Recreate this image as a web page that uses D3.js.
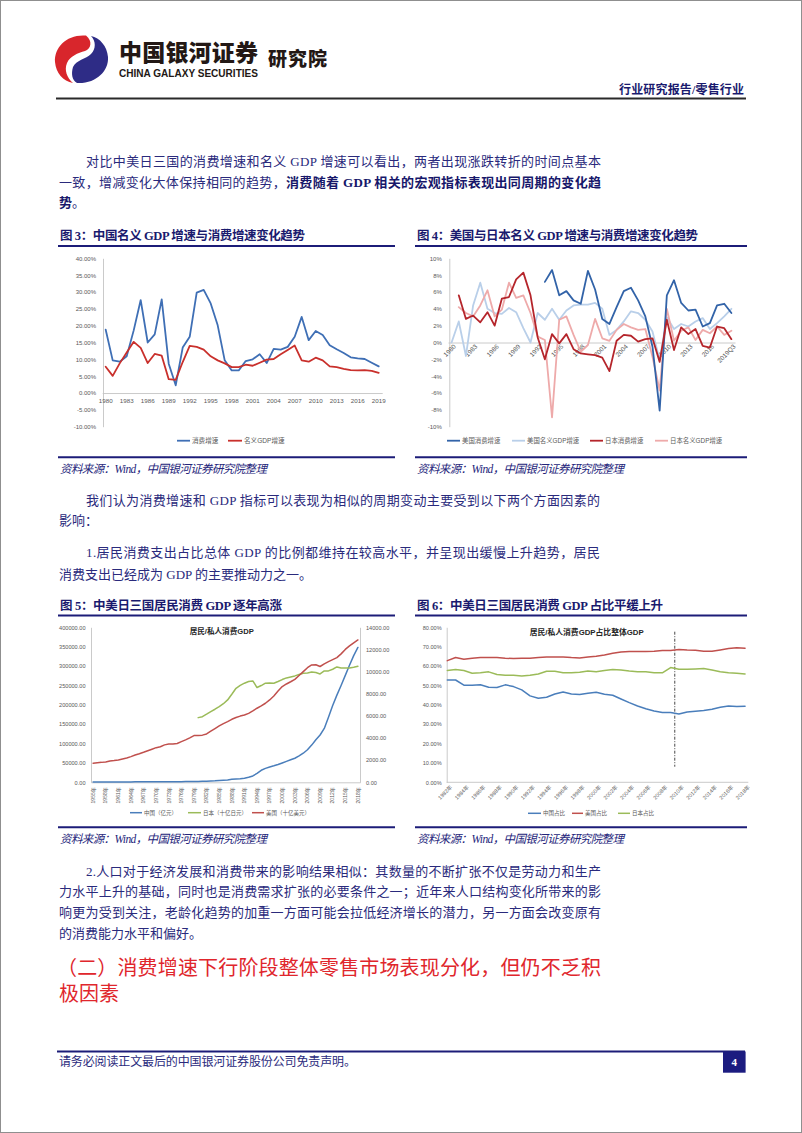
<!DOCTYPE html>
<html><head><meta charset="utf-8">
<script src="https://cdn.jsdelivr.net/npm/d3@7/dist/d3.min.js"></script>
<style>
html,body{margin:0;padding:0;background:#fff;}
svg{display:block;}
</style></head>
<body>
<svg id="page" width="802" height="1133"></svg>
<script>
// ---------------- DATA ----------------
const fig3Years = [1980,1981,1982,1983,1984,1985,1986,1987,1988,1989,1990,1991,1992,1993,1994,1995,1996,1997,1998,1999,2000,2001,2002,2003,2004,2005,2006,2007,2008,2009,2010,2011,2012,2013,2014,2015,2016,2017,2018,2019];
const fig3Consumption = [18.8,9.7,9.3,10.9,18.6,27.6,15.0,17.4,27.8,8.7, 2.3,13.5,16.7,29.8,30.6,26.6,20.1,9.7,6.7,6.7, 9.5,10.0,11.5,8.9,13.1,12.9,13.7,16.7,22.6,15.7, 18.4,17.2,14.2,13.0,11.9,10.6,10.3,10.1,9.0,7.9];
const fig3NominalGdp = [7.8,5.1,8.8,12.0,15.2,13.4,8.9,11.6,11.1,4.1, 3.9,9.2,14.0,13.7,12.9,10.9,9.7,8.8,7.7,7.7, 8.4,8.1,9.0,9.9,10.1,11.5,12.8,14.1,9.7,9.3, 10.5,9.7,7.9,7.7,7.2,6.8,6.7,6.8,6.6,6.0];
const fig3YTicks = [-10,-5,0,5,10,15,20,25,30,35,40];
const fig3XTicks = [1980,1983,1986,1989,1992,1995,1998,2001,2004,2007,2010,2013,2016,2019];

const fig4Cats = ["1980","1981","1982","1983","1984","1985","1986","1987","1988","1989","1990","1991","1992","1993","1994","1995","1996","1997","1998","1999","2000","2001","2002","2003","2004","2005","2006","2007","2008","2009","2010","2011","2012","2013","2014","2015","2016","2017","2018","2019Q3"];
const fig4UsConsumption = [null,null,null,null,null,null,null,null,null,null,null,null,null, 7.2,8.6,5.6,6.1,5.0,4.6,8.5,6.3,2.8,2.2,4.2,6.1,6.5,5.0,3.1,-0.5,-8.1,5.6,7.4,4.7,3.8,3.9,1.9,2.3,4.4,4.6,3.5];
const fig4UsNominalGdp = [0.0,2.5,-1.6,4.4,7.1,4.0,3.5,3.4,4.1,3.6, 1.7,0.0,3.5,2.7,4.0,2.7,3.8,4.4,4.5,4.5, 4.7,4.0,0.9,1.5,2.5,3.7,3.5,2.7,1.3,-2.1, 3.0,1.6,2.2,1.9,2.5,2.9,1.6,2.3,3.1,4.0];
const fig4JpConsumption = [null,5.6,2.8,3.2,2.4,3.6,2.0,5.2,5.4,7.5, 8.3,5.6,0.6,-2.0,1.0,-0.1,1.0,-0.8,-1.3,-1.4, -1.5,-1.8,-3.4,0.2,0.9,0.8,0.1,0.4,0.5,-2.3, 2.7,-0.9,1.8,1.0,1.6,-0.4,-0.6,1.9,1.7,0.4];
const fig4JpNominalGdp = [null,4.2,3.5,3.1,4.4,6.2,3.1,3.9,7.1,5.3, 5.6,3.5,0.7,0.3,-8.9,2.7,3.1,0.9,-1.1,-0.3, 2.8,0.5,0.2,1.5,2.2,1.8,1.5,1.6,-1.7,-5.7, 4.0,0.2,1.4,1.8,0.3,1.5,1.1,1.9,0.9,1.4];
const fig4YTicks = [-10,-8,-6,-4,-2,0,2,4,6,8,10];
const fig4XTicks = ["1980","1983","1986","1989","1992","1995","1998","2001","2004","2007","2010","2013","2016","2019Q3"];

const fig5Years = [1955,1956,1957,1958,1959,1960,1961,1962,1963,1964,1965,1966,1967,1968,1969,1970,1971,1972,1973,1974,1975,1976,1977,1978,1979,1980,1981,1982,1983,1984,1985,1986,1987,1988,1989,1990,1991,1992,1993,1994,1995,1996,1997,1998,1999,2000,2001,2002,2003,2004,2005,2006,2007,2008,2009,2010,2011,2012,2013,2014,2015,2016,2017,2018];
const fig5China = [700,770,810,880,850,880,920,950,970,1030, 1100,1190,1230,1210,1270,1320,1380,1450,1550,1600, 1670,1730,1780,1760,2010,2330,2630,2900,3230,3740, 4690,5300,6130,7870,8810,9450,10730,13000,16400,23000, 31000,36000,39500,42500,46000,50000,54000,58000,62000,68000, 75000,84000,96000,110000,122000,139000,168000,198000,225000,250000, 276000,302000,327000,348000];
const fig5Japan = [null,null,null,null,null,null,null,null,null,null,null,null,null,null,null,null,null,null,null,null,null,null,null,null,null, 5840,5930,6150,6390,6600,6840,7100,7440,7950,8490, 8750,8950,9100,9160,8560,8740,8950,8980,8950,9100, 9280,9430,9520,9610,9730,9850,9880,9970,9910,9790, 10060,10060,10210,10420,10330,10330,10330,10390,10480];
const fig5Us = [1720,1770,1800,1840,1920,1960,2020,2110,2200,2320, 2460,2580,2710,2850,2990,3130,3210,3380,3460,3450, 3510,3675,3830,4010,4220,4220,4260,4370,4620,4850, 5090,5300,5480,5690,5850,5980,6080,6230,6450,6690, 6900,7140,7440,7800,8240,8645,8880,9080,9300,9650, 10000,10350,10600,10620,10460,10700,10900,11080,11260,11600, 12000,12320,12600,12860];
const fig5LeftTicks = [0,50000,100000,150000,200000,250000,300000,350000,400000];
const fig5RightTicks = [0,2000,4000,6000,8000,10000,12000,14000];
const fig5XTicks = [1955,1958,1961,1964,1967,1970,1973,1976,1979,1982,1985,1988,1991,1994,1997,2000,2003,2006,2009,2012,2015,2018];

const fig6Years = [1982,1983,1984,1985,1986,1987,1988,1989,1990,1991,1992,1993,1994,1995,1996,1997,1998,1999,2000,2001,2002,2003,2004,2005,2006,2007,2008,2009,2010,2011,2012,2013,2014,2015,2016,2017,2018];
const fig6China = [52.8,52.8,50.1,50.1,50.3,49.1,48.9,50.3,49.4,47.7, 44.6,43.4,43.9,45.6,46.6,45.6,45.3,46.0,46.5,45.4, 44.9,43.0,41.1,39.4,38.0,36.8,36.0,36.0,35.3,36.3, 36.7,37.0,37.7,38.7,39.4,39.1,39.2];
const fig6Us = [62.8,64.4,63.5,64.0,64.4,64.4,64.4,64.0,63.9,64.0, 64.0,64.4,64.7,64.7,64.7,64.4,64.2,64.7,65.1,65.7, 66.6,67.3,67.5,67.5,67.5,67.6,68.0,68.0,68.5,68.3, 68.2,67.6,67.6,68.3,69.0,69.4,69.2];
const fig6Japan = [57.7,58.2,57.7,56.3,56.6,57.0,55.6,55.2,55.2,54.9, 55.2,55.9,57.3,57.3,56.6,56.5,56.8,57.5,57.0,57.7, 58.2,58.0,57.5,57.1,57.0,56.6,56.5,59.2,58.3,58.3, 58.5,58.7,58.0,57.1,56.6,56.3,55.9];
const fig6YTicks = [0,10,20,30,40,50,60,70,80];
const fig6XTicks = [1982,1984,1986,1988,1990,1992,1994,1996,1998,2000,2002,2004,2006,2008,2010,2012,2014,2016,2018];
const fig6MarkYear = 2010;

// ---------------- STYLE ----------------
const BODY = "'Liberation Serif','Noto Sans CJK SC',serif";
const SANS = "'Liberation Sans','Noto Sans CJK SC',sans-serif";
const BODYC = "#2a2a7c";
const BOLDC = "#17176a";
const NAVY = "#1c1c78";
const AXC = "#c4c4c4";
const LABC = "#595959";

const svg = d3.select("#page");

function line(parent, x, cy, size, segs, o = {}) {
  const t = parent.append("text").attr("x", x).attr("y", cy + size * 0.36)
    .attr("font-size", size).attr("font-family", o.family || BODY).attr("fill", o.fill || BODYC);
  if (o.anchor) t.attr("text-anchor", o.anchor);
  if (o.style) t.attr("font-style", o.style);
  if (o.weight) t.attr("font-weight", o.weight);
  if (o.w) t.attr("textLength", o.w).attr("lengthAdjust", o.adjust || "spacing");
  segs.forEach(s => {
    const sp = t.append("tspan").text(Array.isArray(s) ? s[0] : s);
    if (Array.isArray(s) && s[1]) sp.attr("font-weight", "bold").attr("fill", s[2] || BOLDC);
  });
  return t;
}
function hline(x1, x2, y, color, w) {
  svg.append("line").attr("x1", x1).attr("x2", x2).attr("y1", y).attr("y2", y)
    .attr("stroke", color).attr("stroke-width", w);
}

// ---------------- PAGE FRAME & HEADER ----------------
svg.append("rect").attr("x", 0.5).attr("y", 0.5).attr("width", 801).attr("height", 1132)
  .attr("fill", "#fff").attr("stroke", "#8f8f8f");

// logo
svg.append("path").attr("fill", "#d8262c")
  .attr("d", "M86,35.5 C67,34 54,47 55,62 C56,73 63,81 73,83 C67,78 64,70 67,63 C70,56 78,53 85,51 C91,49 93,41 86,35.5 Z");
svg.append("path").attr("fill", "#2e2c86")
  .attr("d", "M77,83 C96,84 109,71 108,57 C107,46 100,38 91,36 C96,41 96,49 91,54 C86,59 76,60 73,67 C71,74 72,80 77,83 Z");
line(svg, 119, 53, 23, ["中国银河证券"], {family: "'Noto Sans CJK SC'", weight: 900, fill: "#231815", w: 139});
line(svg, 119, 73, 10, ["CHINA GALAXY SECURITIES"], {family: "'Liberation Sans Narrow','Liberation Sans',sans-serif", weight: "bold", fill: "#231815", w: 139, adjust: "spacingAndGlyphs"});
line(svg, 268, 59, 19, ["研究院"], {family: "'Noto Sans CJK SC'", weight: 900, fill: "#231815", w: 59});
line(svg, 619, 89.5, 12, ["行业研究报告/零售行业"], {weight: "bold", fill: "#1a1a6e", w: 125});
hline(56, 746, 98.5, "#2a2a2a", 2);

// ---------------- BODY TEXT ----------------
line(svg, 86, 161, 13, ["对比中美日三国的消费增速和名义 GDP 增速可以看出，两者出现涨跌转折的时间点基本"], {w: 515});
line(svg, 59, 182.3, 13, ["一致，增减变化大体保持相同的趋势，", ["消费随着 GDP 相关的宏观指标表现出同周期的变化趋", true]], {w: 542});
line(svg, 59, 202.5, 13, [["势", true], "。"]);

line(svg, 86, 500.7, 13, ["我们认为消费增速和 GDP 指标可以表现为相似的周期变动主要受到以下两个方面因素的"], {w: 514});
line(svg, 59, 520.7, 13, ["影响："]);
line(svg, 86, 552.7, 13, ["1.居民消费支出占比总体 GDP 的比例都维持在较高水平，并呈现出缓慢上升趋势，居民"], {w: 514});
line(svg, 59, 574, 13, ["消费支出已经成为 GDP 的主要推动力之一。"]);

line(svg, 86, 871, 13, ["2.人口对于经济发展和消费带来的影响结果相似：其数量的不断扩张不仅是劳动力和生产"], {w: 515});
line(svg, 59, 891.7, 13, ["力水平上升的基础，同时也是消费需求扩张的必要条件之一；近年来人口结构变化所带来的影"], {w: 542});
line(svg, 59, 912.7, 13, ["响更为受到关注，老龄化趋势的加重一方面可能会拉低经济增长的潜力，另一方面会改变原有"], {w: 542});
line(svg, 59, 933.3, 13, ["的消费能力水平和偏好。"]);

line(svg, 57, 967.7, 20, ["（二）消费增速下行阶段整体零售市场表现分化，但仍不乏积"], {fill: "#e0262c", w: 544});
line(svg, 59, 993.3, 20, ["极因素"], {fill: "#e0262c"});

// footer
hline(57, 745, 1051.5, NAVY, 2);
line(svg, 59, 1061.5, 12, ["请务必阅读正文最后的中国银河证券股份公司免责声明。"], {w: 297});
svg.append("rect").attr("x", 723).attr("y", 1051.5).attr("width", 22.6).attr("height", 21.2).attr("fill", "#1c1c80");
line(svg, 734.3, 1062, 11, ["4"], {fill: "#fff", weight: "bold", anchor: "middle"});

// ---------------- FIGURE FRAMES ----------------
function figFrame(x1, x2, titleY, ulY, srcLineY, srcY, title, titleW) {
  line(svg, x1 + 2, titleY, 12.5, [title], {weight: "bold", fill: "#1a1a6e", w: titleW});
  hline(x1, x2, ulY, NAVY, 2);
  hline(x1, x2, srcLineY, NAVY, 2);
  line(svg, x1 + 2, srcY, 11.5, ["资料来源：Wind，中国银河证券研究院整理"], {style: "italic", fill: "#24247a", w: 207});
}
figFrame(58, 395, 235, 246, 457.3, 468.5, "图 3：中国名义 GDP 增速与消费增速变化趋势", 245);
figFrame(415, 747, 235, 246, 457.3, 468.5, "图 4：美国与日本名义 GDP 增速与消费增速变化趋势", 281);
figFrame(58, 395, 605, 615.5, 827.3, 838.8, "图 5：中美日三国居民消费 GDP 逐年高涨", 222);
figFrame(415, 747, 605, 615.5, 827.3, 838.8, "图 6：中美日三国居民消费 GDP 占比平缓上升", 246);

// ---------------- CHART HELPERS ----------------
function styleAxis(a, size) {
  a.attr("font-family", SANS).attr("font-size", size);
  a.select(".domain").attr("stroke", AXC).attr("stroke-width", 0.9);
  a.selectAll("text").attr("fill", LABC);
  return a;
}
function drawSeries(g, x, y, cats, values, color, w) {
  const gen = d3.line().defined(d => d.v != null)
    .x(d => x(d.c) + x.bandwidth() / 2).y(d => y(d.v));
  g.append("path").datum(cats.map((c, i) => ({c, v: values[i]})))
    .attr("d", gen).attr("fill", "none").attr("stroke", color)
    .attr("stroke-width", w).attr("stroke-linejoin", "round").attr("stroke-linecap", "round");
}
function legend(g, cy, items, size, lw) {
  items.forEach(it => {
    g.append("line").attr("x1", it.x1).attr("x2", it.x2).attr("y1", cy).attr("y2", cy)
      .attr("stroke", it.color).attr("stroke-width", lw);
    line(g, it.x2 + 2, cy, size, [it.label], {family: SANS, fill: LABC});
  });
}

// ---------------- FIGURE 3 ----------------
{
  const g = svg.append("g");
  const x = d3.scaleBand().domain(fig3Years).range([102.2, 382.2]);
  const y = d3.scaleLinear().domain([-10, 40]).range([426.7, 258.3]);
  styleAxis(g.append("g").attr("transform", "translate(103,0)")
    .call(d3.axisLeft(y).tickValues(fig3YTicks).tickFormat(d => d.toFixed(2) + "%").tickSize(0).tickSizeOuter(0).tickPadding(7)), 6);
  styleAxis(g.append("g").attr("transform", `translate(0,${y(0)})`)
    .call(d3.axisBottom(x).tickValues(fig3XTicks).tickSize(0).tickSizeOuter(0).tickPadding(6)), 6.2);
  drawSeries(g, x, y, fig3Years, fig3Consumption, "#3f6fb5", 1.8);
  drawSeries(g, x, y, fig3Years, fig3NominalGdp, "#c9302c", 1.8);
  legend(g, 440.7, [
    {x1: 177, x2: 190, color: "#3f6fb5", label: "消费增速"},
    {x1: 228, x2: 242, color: "#c9302c", label: "名义GDP增速"}
  ], 6.6, 1.8);
}

// ---------------- FIGURE 4 ----------------
{
  const g = svg.append("g");
  const x = d3.scaleBand().domain(fig4Cats).range([448, 735]);
  const y = d3.scaleLinear().domain([-10, 10]).range([426.7, 258.3]);
  styleAxis(g.append("g").attr("transform", "translate(449.3,0)")
    .call(d3.axisLeft(y).tickValues(fig4YTicks).tickFormat(d => d + "%").tickSize(0).tickSizeOuter(0).tickPadding(7.5)), 6);
  const xa = styleAxis(g.append("g").attr("transform", `translate(0,${y(0)})`)
    .call(d3.axisBottom(x).tickValues(fig4XTicks).tickSize(0).tickSizeOuter(0)), 6.4);
  xa.selectAll("text").attr("y", 0).attr("dy", "0.35em").attr("text-anchor", "end")
    .attr("transform", "translate(3,3) rotate(-45)");
  drawSeries(g, x, y, fig4Cats, fig4UsNominalGdp, "#b9cfe9", 1.8);
  drawSeries(g, x, y, fig4Cats, fig4JpNominalGdp, "#eeaaaa", 1.8);
  drawSeries(g, x, y, fig4Cats, fig4UsConsumption, "#3263a8", 1.8);
  drawSeries(g, x, y, fig4Cats, fig4JpConsumption, "#b5252b", 1.8);
  legend(g, 440.7, [
    {x1: 447, x2: 460, color: "#3263a8", label: "美国消费增速"},
    {x1: 512, x2: 525, color: "#b9cfe9", label: "美国名义GDP增速"},
    {x1: 590, x2: 603, color: "#b5252b", label: "日本消费增速"},
    {x1: 655, x2: 668, color: "#eeaaaa", label: "日本名义GDP增速"}
  ], 6.4, 1.8);
}

// ---------------- FIGURE 5 ----------------
{
  const g = svg.append("g");
  const x = d3.scaleBand().domain(fig5Years).range([91, 360]);
  const yL = d3.scaleLinear().domain([0, 400000]).range([782.3, 627.3]);
  const yR = d3.scaleLinear().domain([0, 14000]).range([782.3, 627.3]);
  styleAxis(g.append("g").attr("transform", "translate(91,0)")
    .call(d3.axisLeft(yL).tickValues(fig5LeftTicks).tickFormat(d => d.toFixed(2)).tickSize(0).tickSizeOuter(0).tickPadding(5.5)), 5.6);
  styleAxis(g.append("g").attr("transform", "translate(360,0)")
    .call(d3.axisRight(yR).tickValues(fig5RightTicks).tickFormat(d => d.toFixed(2)).tickSize(0).tickSizeOuter(0).tickPadding(6)), 5.6);
  const xa = styleAxis(g.append("g").attr("transform", `translate(0,${yL(0)})`)
    .call(d3.axisBottom(x).tickValues(fig5XTicks).tickFormat(d => d + "年").tickSize(0).tickSizeOuter(0)), 5);
  xa.selectAll("text").attr("y", 0).attr("dy", "0.35em").attr("text-anchor", "end")
    .attr("transform", "translate(0,5) rotate(-90)");
  drawSeries(g, x, yL, fig5Years, fig5China, "#4a7ebb", 1.5);
  drawSeries(g, x, yR, fig5Years, fig5Japan, "#9bbb59", 1.5);
  drawSeries(g, x, yR, fig5Years, fig5Us, "#c0504d", 1.5);
  line(g, 221.7, 631.7, 7.6, ["居民/私人消费GDP"], {family: SANS, weight: "bold", fill: "#262626", anchor: "middle"});
  legend(g, 812.7, [
    {x1: 130, x2: 142, color: "#4a7ebb", label: "中国（亿元）"},
    {x1: 188, x2: 201, color: "#9bbb59", label: "日本（十亿日元）"},
    {x1: 252, x2: 264, color: "#c0504d", label: "美国（十亿美元）"}
  ], 5.5, 1.5);
}

// ---------------- FIGURE 6 ----------------
{
  const g = svg.append("g");
  const x = d3.scaleBand().domain(fig6Years).range([443.2, 749.2]);
  const y = d3.scaleLinear().domain([0, 80]).range([782.3, 627.3]);
  styleAxis(g.append("g").attr("transform", "translate(446.7,0)")
    .call(d3.axisLeft(y).tickValues(fig6YTicks).tickFormat(d => d.toFixed(2) + "%").tickSize(0).tickSizeOuter(0).tickPadding(5)), 5.6);
  const xa = styleAxis(g.append("g").attr("transform", `translate(0,${y(0)})`)
    .call(d3.axisBottom(x).tickValues(fig6XTicks).tickFormat(d => d + "年").tickSize(0).tickSizeOuter(0)), 5.4);
  xa.select(".domain").remove();
  g.append("line").attr("x1", 446.7).attr("x2", 748.3).attr("y1", y(0)).attr("y2", y(0))
    .attr("stroke", AXC).attr("stroke-width", 0.9);
  xa.selectAll("text").attr("y", 0).attr("dy", "0.35em").attr("text-anchor", "end")
    .attr("transform", "translate(4,4) rotate(-45)");
  const mx = x(fig6MarkYear);
  g.append("line").attr("x1", mx).attr("x2", mx).attr("y1", 631.7).attr("y2", 766.7)
    .attr("stroke", "#333").attr("stroke-width", 0.9).attr("stroke-dasharray", "3,1.5,1,1.5");
  drawSeries(g, x, y, fig6Years, fig6China, "#4a7ebb", 1.5);
  drawSeries(g, x, y, fig6Years, fig6Us, "#c0504d", 1.5);
  drawSeries(g, x, y, fig6Years, fig6Japan, "#9bbb59", 1.5);
  line(g, 586.7, 632.3, 7.8, ["居民/私人消费GDP占比整体GDP"], {family: SANS, weight: "bold", fill: "#262626", anchor: "middle"});
  legend(g, 813.3, [
    {x1: 528, x2: 541, color: "#4a7ebb", label: "中国占比"},
    {x1: 572, x2: 583, color: "#c0504d", label: "美国占比"},
    {x1: 618, x2: 630, color: "#9bbb59", label: "日本占比"}
  ], 5.5, 1.5);
}
</script>
</body></html>
